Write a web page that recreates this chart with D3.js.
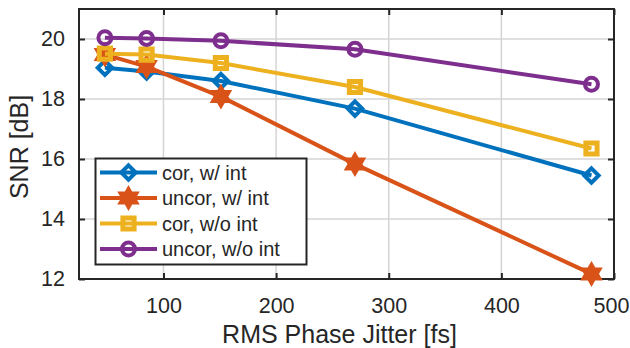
<!DOCTYPE html>
<html>
<head>
<meta charset="utf-8">
<script src="https://cdn.jsdelivr.net/npm/d3@7"></script>
<style>
  html, body { margin: 0; padding: 0; background: #fff; }
  svg { display: block; }
  text { font-family: "Liberation Sans", Arial, Helvetica, sans-serif; fill: #262626; }
</style>
</head>
<body>
<svg id="chart" width="630" height="348"></svg>
<script>
// ---- data ----
const jitter = [48, 85, 151, 270, 480];
const corWithInt = [19.04, 18.92, 18.6, 17.68, 15.45];
const uncorWithInt = [19.48, 19.08, 18.08, 15.83, 12.17];
const corWithoutInt = [19.51, 19.48, 19.2, 18.4, 16.35];
const uncorWithoutInt = [20.04, 20.02, 19.94, 19.66, 18.49];
const seriesNames = ["cor, w/ int", "uncor, w/ int", "cor, w/o int", "uncor, w/o int"];
const xTicks = [100, 200, 300, 400, 500];
const yTicks = [12, 14, 16, 18, 20];
const xLabel = "RMS Phase Jitter [fs]";
const yLabel = "SNR [dB]";

// ---- style ----
const colors = ["#0072BD", "#D95319", "#EDB120", "#7E2F8E"];
const markerKinds = ["diamond", "hexagram", "square", "circle"];

const svg = d3.select("#chart");
const margin = { left: 79, right: 16, top: 9, bottom: 69 };
const W = 630, H = 348;
const x = d3.scaleLinear().domain([25, 500]).range([margin.left, W - margin.right]);
const y = d3.scaleLinear().domain([12, 21]).range([H - margin.bottom, margin.top]);

const x0 = x.range()[0], x1 = x.range()[1], y0 = y.range()[0], y1 = y.range()[1];

// custom symbol types
const symHexagram = {
  draw(ctx, size) {
    const R = Math.sqrt(size), r = R / Math.sqrt(3);
    for (let i = 0; i < 12; i++) {
      const a = -Math.PI / 2 + i * Math.PI / 6;
      const rr = i % 2 === 0 ? R : r;
      const px = rr * Math.cos(a), py = rr * Math.sin(a);
      if (i === 0) ctx.moveTo(px, py); else ctx.lineTo(px, py);
    }
    ctx.closePath();
  }
};
const symDiamondSq = {
  draw(ctx, size) {
    const R = Math.sqrt(size);
    ctx.moveTo(0, -R); ctx.lineTo(R, 0); ctx.lineTo(0, R); ctx.lineTo(-R, 0); ctx.closePath();
  }
};
const symSquare = {
  draw(ctx, size) {
    const h = Math.sqrt(size);
    ctx.rect(-h, -h, 2 * h, 2 * h);
  }
};
const symCircle = {
  draw(ctx, size) {
    const r = Math.sqrt(size);
    ctx.moveTo(r, 0); ctx.arc(0, 0, r, 0, 2 * Math.PI);
  }
};
const markerDefs = {
  diamond: { type: symDiamondSq, size: 7.2 * 7.2, sw: 4, fill: false },
  hexagram: { type: symHexagram, size: 10.5 * 10.5, sw: 2.5, fill: true },
  square: { type: symSquare, size: 5.6 * 5.6, sw: 5, fill: false },
  circle: { type: symCircle, size: 6.5 * 6.5, sw: 4, fill: false }
};

// grid
const grid = svg.append("g");
grid.selectAll("line.gx").data(xTicks).join("line")
  .attr("x1", d => x(d)).attr("x2", d => x(d)).attr("y1", y0).attr("y2", y1)
  .attr("stroke", "#d4d4d4").attr("stroke-width", 1.5);
grid.selectAll("line.gy").data(yTicks).join("line")
  .attr("y1", d => y(d)).attr("y2", d => y(d)).attr("x1", x0).attr("x2", x1)
  .attr("stroke", "#d4d4d4").attr("stroke-width", 1.5);

// axes (ticks inward)
const axisColor = "#262626";
function styleAxis(g) {
  g.select(".domain").remove();
  g.selectAll(".tick line").attr("stroke", axisColor).attr("stroke-width", 2);
  g.selectAll(".tick text").attr("fill", axisColor).style("font-size", "21.5px")
    .style("font-family", "'Liberation Sans', Arial, sans-serif");
}
svg.append("g").attr("transform", `translate(0,${y0})`)
  .call(d3.axisBottom(x).tickValues(xTicks).tickSizeInner(-6).tickSizeOuter(0).tickPadding(19))
  .call(styleAxis)
  .selectAll(".tick text").attr("dy", "0.71em")
  .attr("dx", (d, i, n) => (i === n.length - 1 ? -3 : 0));
svg.append("g").attr("transform", `translate(0,${y1})`)
  .call(d3.axisTop(x).tickValues(xTicks).tickSizeInner(-6).tickSizeOuter(0).tickFormat(""))
  .call(styleAxis);
svg.append("g").attr("transform", `translate(${x0},0)`)
  .call(d3.axisLeft(y).tickValues(yTicks).tickSizeInner(-6).tickSizeOuter(0).tickPadding(14))
  .call(styleAxis);
svg.append("g").attr("transform", `translate(${x1},0)`)
  .call(d3.axisRight(y).tickValues(yTicks).tickSizeInner(-6).tickSizeOuter(0).tickFormat(""))
  .call(styleAxis);

// box
svg.append("rect").attr("x", x0).attr("y", y1).attr("width", x1 - x0).attr("height", y0 - y1)
  .attr("fill", "none").attr("stroke", axisColor).attr("stroke-width", 2);

// axis labels
svg.append("text").attr("x", 339.5).attr("y", 343).attr("text-anchor", "middle")
  .style("font-size", "25px").text(xLabel);
svg.append("text").attr("transform", `translate(28,${(y0 + y1) / 2 + 3}) rotate(-90)`)
  .attr("text-anchor", "middle").style("font-size", "25px").text(yLabel);

// series
const allSeries = [corWithInt, uncorWithInt, corWithoutInt, uncorWithoutInt];
const line = d3.line().x((d, i) => x(jitter[i])).y(d => y(d));
allSeries.forEach((vals, k) => {
  const g = svg.append("g");
  g.append("path").attr("d", line(vals)).attr("fill", "none")
    .attr("stroke", colors[k]).attr("stroke-width", 4).attr("stroke-linejoin", "round");
  const md = markerDefs[markerKinds[k]];
  const sym = d3.symbol().type(md.type).size(md.size);
  g.selectAll("path.m").data(vals).join("path").attr("class", "m")
    .attr("transform", (d, i) => `translate(${x(jitter[i])},${y(d)})`)
    .attr("d", sym()).attr("fill", md.fill ? colors[k] : "none")
    .attr("stroke", colors[k]).attr("stroke-width", md.sw)
    .attr("stroke-linejoin", "miter");
});

// legend
const lg = svg.append("g");
lg.append("rect").attr("x", 95.5).attr("y", 158.5).attr("width", 211).attr("height", 106)
  .attr("fill", "#fff").attr("stroke", axisColor).attr("stroke-width", 2);
const rowY = [172.5, 198, 223.5, 249];
seriesNames.forEach((name, k) => {
  const yy = rowY[k];
  lg.append("line").attr("x1", 100).attr("x2", 157).attr("y1", yy).attr("y2", yy)
    .attr("stroke", colors[k]).attr("stroke-width", 4);
  const md = markerDefs[markerKinds[k]];
  lg.append("path").attr("transform", `translate(128.5,${yy})`)
    .attr("d", d3.symbol().type(md.type).size(md.size)())
    .attr("fill", md.fill ? colors[k] : "none")
    .attr("stroke", colors[k]).attr("stroke-width", md.sw);
  lg.append("text").attr("x", 162).attr("y", yy).attr("dy", "0.35em")
    .style("font-size", "20px").text(name);
});
</script>
</body>
</html>
